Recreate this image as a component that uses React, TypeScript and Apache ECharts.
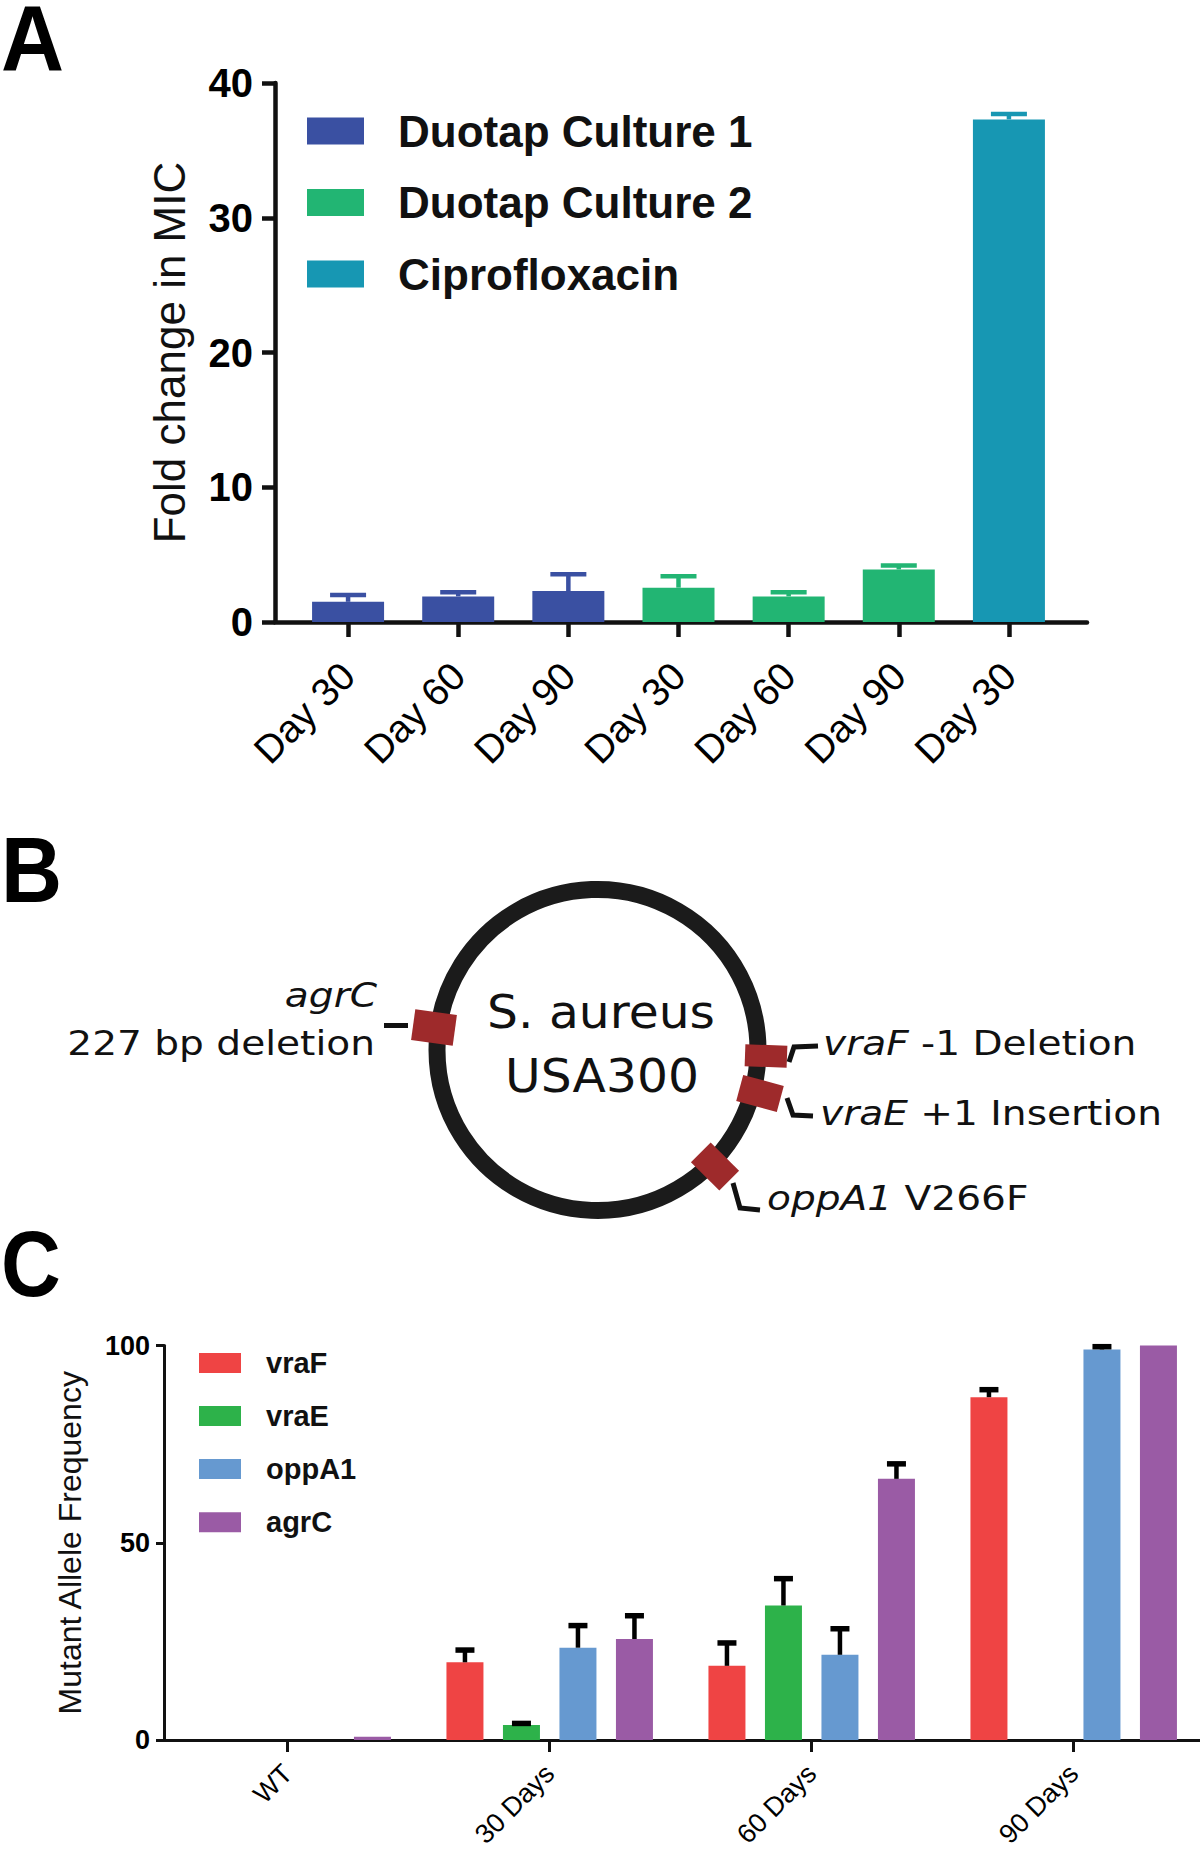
import React, { useEffect, useRef } from 'react';
import * as echarts from 'echarts';

// ---------- Panel A data ----------
const micCategories = ['Day 30', 'Day 60', 'Day 90', 'Day 30', 'Day 60', 'Day 90', 'Day 30'];
const micSeriesNames = ['Duotap Culture 1', 'Duotap Culture 2', 'Ciprofloxacin'];
const culture1Mean = [1.5, 1.9, 2.3];
const culture1Upper = [2.0, 2.2, 3.55];
const culture2Mean = [2.55, 1.9, 3.9];
const culture2Upper = [3.4, 2.2, 4.2];
const ciproMean = [37.3];
const ciproUpper = [37.7];
const micGroupStart = [0, 3, 6];
const micTickValues = [0, 10, 20, 30, 40];
const micColors = ['#3A50A2', '#22B573', '#1797B3'];

// ---------- Panel C data ----------
const afCategories = ['WT', '30 Days', '60 Days', '90 Days'];
const afSeriesNames = ['vraF', 'vraE', 'oppA1', 'agrC'];
const vraFMean = [0, 19.7, 18.8, 86.9];
const vraFUpper = [null, 22.8, 24.6, 88.8];
const vraEMean = [0, 3.8, 34.1, 0];
const vraEUpper = [null, 4.2, 40.9, null];
const oppA1Mean = [0, 23.4, 21.6, 99.0];
const oppA1Upper = [null, 29.0, 28.2, 99.7];
const agrCMean = [0.8, 25.6, 66.2, 100];
const agrCUpper = [null, 31.5, 70.0, null];
const afTickValues = [0, 50, 100];
const afColors = ['#EF4444', '#2DB24A', '#6699D0', '#9A5BA5'];

const SANS = "'Liberation Sans', Arial, Helvetica, sans-serif";
const DV = "'DejaVu Sans', Verdana, sans-serif";

export default function App() {
  const ref = useRef<HTMLDivElement>(null);

  useEffect(() => {
    if (!ref.current) return;
    const chart = echarts.init(ref.current, null, { renderer: 'svg' });

    const micMeans = [culture1Mean, culture2Mean, ciproMean];
    const micUppers = [culture1Upper, culture2Upper, ciproUpper];
    const micBars = micSeriesNames.map((name, gi) => {
      const data: any[] = micCategories.map(() => '-');
      micMeans[gi].forEach((v, j) => { data[micGroupStart[gi] + j] = v; });
      return {
        type: 'bar', name, xAxisIndex: 0, yAxisIndex: 0,
        barWidth: 72, barGap: '-100%', data,
        itemStyle: { color: micColors[gi] }, z: 3,
      };
    });
    const micErr: number[][] = [];
    micMeans.forEach((arr, gi) => arr.forEach((m, j) => {
      micErr.push([micGroupStart[gi] + j, m, micUppers[gi][j], gi]);
    }));

    const afMeans = [vraFMean, vraEMean, oppA1Mean, agrCMean];
    const afUppers = [vraFUpper, vraEUpper, oppA1Upper, agrCUpper];
    const afBarW = 37;
    const afGapPx = 19.5;
    const afBars = afSeriesNames.map((name, k) => ({
      type: 'bar', name, xAxisIndex: 2, yAxisIndex: 2,
      barWidth: afBarW, barGap: (afGapPx / afBarW * 100).toFixed(1) + '%',
      data: afMeans[k], itemStyle: { color: afColors[k] }, z: 3,
    }));
    const afErr: number[][] = [];
    afUppers.forEach((arr, k) => arr.forEach((u, c) => {
      if (u !== null) afErr.push([c, afMeans[k][c], u as number, k]);
    }));

    const ring = { cx: 597.5, cy: 1050, r: 160.5, w: 17 };
    const markers = [
      { cx: 434, cy: 1027.5, angle: 7.8, w: 42, h: 31 },
      { cx: 766, cy: 1056, angle: 2, w: 42, h: 22 },
      { cx: 760, cy: 1093.5, angle: 15, w: 42, h: 27 },
      { cx: 715, cy: 1166.5, angle: 44.8, w: 40, h: 28 },
    ];
    const red = '#9E2A2B';
    const leaders = [
      [[384, 1025.5], [408, 1025.5]],
      [[789, 1062], [794, 1047], [818, 1046]],
      [[787, 1098], [793, 1115], [813, 1116]],
      [[733, 1183], [740, 1208], [760, 1210]],
    ];
    const labelStyle = (text: string, align: string) => ({
      text, fontSize: 34, fontFamily: DV, fill: '#111', align, verticalAlign: 'middle',
      rich: { i: { fontStyle: 'italic', fontSize: 34, fontFamily: DV, fill: '#111' } },
    });
    const panelLetter = (t: string, yCenter: number, sx: number) => ({
      type: 'text', x: 1, y: yCenter - 36, scaleX: sx,
      style: {
        text: '{L|' + t + '}', verticalAlign: 'top', fill: '#000',
        rich: { L: { fontSize: 92, lineHeight: 72, height: 72, fontWeight: 'bold', fontFamily: SANS, fill: '#000' } },
      },
    });

    const graphic: any[] = [
      panelLetter('A', 38, 0.95),
      panelLetter('B', 870, 0.92),
      panelLetter('C', 1264, 0.9),
      { type: 'circle', shape: { cx: ring.cx, cy: ring.cy, r: ring.r }, style: { fill: 'none', stroke: '#1b1b1b', lineWidth: ring.w } },
      ...markers.map((m) => ({
        type: 'rect', x: m.cx, y: m.cy, rotation: -m.angle * Math.PI / 180,
        shape: { x: -m.w / 2, y: -m.h / 2, width: m.w, height: m.h },
        style: { fill: red },
      })),
      ...leaders.map((pts) => ({
        type: 'polyline', shape: { points: pts }, style: { stroke: '#111', lineWidth: 5, fill: 'none' },
      })),
      { type: 'text', x: 601, y: 1012, scaleX: 1.06, style: { text: 'S. aureus', fontSize: 46, fontFamily: DV, fill: '#111', align: 'center', verticalAlign: 'middle' } },
      { type: 'text', x: 602, y: 1076, scaleX: 1.06, style: { text: 'USA300', fontSize: 46, fontFamily: DV, fill: '#111', align: 'center', verticalAlign: 'middle' } },
      { type: 'text', x: 377, y: 995, scaleX: 1.15, style: labelStyle('{i|agrC}', 'right') },
      { type: 'text', x: 375, y: 1043, scaleX: 1.15, style: labelStyle('227 bp deletion', 'right') },
      { type: 'text', x: 823, y: 1043, scaleX: 1.15, style: labelStyle('{i|vraF} -1 Deletion', 'left') },
      { type: 'text', x: 820, y: 1113, scaleX: 1.15, style: labelStyle('{i|vraE} +1 Insertion', 'left') },
      { type: 'text', x: 767, y: 1198, scaleX: 1.15, style: labelStyle('{i|oppA1} V266F', 'left') },
    ];

    const gridBase = { outerBoundsMode: 'none', containLabel: false };

    const option: any = {
      animation: false,
      backgroundColor: '#ffffff',
      textStyle: { fontFamily: SANS },
      grid: [
        { ...gridBase, left: 293, top: 83, width: 771, height: 539 },
        { ...gridBase, left: 275, top: 83, width: 812, height: 539 },
        { ...gridBase, left: 156.7, top: 1345.5, width: 1048, height: 394.5 },
        { ...gridBase, left: 164, top: 1345.5, width: 1100, height: 394.5 },
      ],
      legend: [
        {
          data: micSeriesNames, orient: 'vertical', left: 307, top: 109, padding: 0,
          itemWidth: 57, itemHeight: 27, itemGap: 27.5, icon: 'rect', selectedMode: false,
          formatter: '{t|{name}}',
          textStyle: { rich: { t: { fontSize: 44, fontWeight: 'bold', fontFamily: SANS, color: '#111', padding: [0, 0, 0, 29], lineHeight: 27 } } },
        },
        {
          data: afSeriesNames, orient: 'vertical', left: 199, top: 1348.4, padding: 0,
          itemWidth: 42, itemHeight: 20, itemGap: 24.1, icon: 'rect', selectedMode: false,
          formatter: '{t|{name}}',
          textStyle: { rich: { t: { fontSize: 29, fontWeight: 'bold', fontFamily: SANS, color: '#111', padding: [0, 0, 0, 20], lineHeight: 20 } } },
        },
      ],
      xAxis: [
        {
          gridIndex: 0, type: 'category', data: micCategories,
          axisLine: { show: false },
          axisTick: { show: true, alignWithLabel: true, length: 15, lineStyle: { width: 4.5, color: '#111' } },
          axisLabel: { interval: 0, rotate: 45, fontSize: 39, color: '#000', margin: 47, fontFamily: SANS },
          splitLine: { show: false },
        },
        {
          gridIndex: 1, type: 'value', min: 0, max: 1,
          axisLine: { show: true, lineStyle: { width: 4.5, color: '#111' } },
          axisTick: { show: false }, axisLabel: { show: false }, splitLine: { show: false },
        },
        {
          gridIndex: 2, type: 'category', data: afCategories,
          axisLine: { show: false },
          axisTick: { show: true, alignWithLabel: true, length: 12, lineStyle: { width: 3, color: '#111' } },
          axisLabel: { interval: 0, rotate: 45, fontSize: 27, color: '#000', margin: 29, fontFamily: SANS },
          splitLine: { show: false },
        },
        {
          gridIndex: 3, type: 'value', min: 0, max: 1,
          axisLine: { show: true, lineStyle: { width: 3, color: '#111' } },
          axisTick: { show: false }, axisLabel: { show: false }, splitLine: { show: false },
        },
      ],
      yAxis: [
        { gridIndex: 0, type: 'value', min: 0, max: 40, show: false },
        {
          gridIndex: 1, type: 'value', min: micTickValues[0], max: micTickValues[micTickValues.length - 1], interval: 10,
          axisLine: { show: true, lineStyle: { width: 4.5, color: '#111' } },
          axisTick: { show: true, length: 13, lineStyle: { width: 4.5, color: '#111' } },
          axisLabel: { fontSize: 40, fontWeight: 'bold', color: '#000', margin: 22, fontFamily: SANS },
          splitLine: { show: false },
          name: 'Fold change in MIC', nameLocation: 'middle', nameGap: 84,
          nameTextStyle: { fontSize: 44, color: '#111', fontFamily: SANS },
        },
        { gridIndex: 2, type: 'value', min: 0, max: 100, show: false },
        {
          gridIndex: 3, type: 'value', min: afTickValues[0], max: afTickValues[afTickValues.length - 1], interval: 50,
          axisLine: { show: true, lineStyle: { width: 3, color: '#111' } },
          axisTick: { show: true, length: 8, lineStyle: { width: 3, color: '#111' } },
          axisLabel: { fontSize: 27, fontWeight: 'bold', color: '#000', margin: 14, fontFamily: SANS },
          splitLine: { show: false },
          name: 'Mutant Allele Frequency', nameLocation: 'middle', nameGap: 78,
          nameTextStyle: { fontSize: 32, color: '#111', fontFamily: SANS },
        },
      ],
      series: [
        ...micBars,
        {
          type: 'custom', name: 'micErr', xAxisIndex: 0, yAxisIndex: 0, z: 2,
          data: micErr, encode: { x: 0, y: [1, 2] },
          renderItem: (params: any, api: any) => {
            const c = api.value(0), m = api.value(1), u = api.value(2), gi = api.value(3);
            const p0 = api.coord([c, m]);
            const p1 = api.coord([c, u]);
            const color = micColors[gi];
            return {
              type: 'group', children: [
                { type: 'line', shape: { x1: p0[0], y1: p0[1], x2: p0[0], y2: p1[1] }, style: { stroke: color, lineWidth: 4.5 } },
                { type: 'line', shape: { x1: p0[0] - 18, y1: p1[1], x2: p0[0] + 18, y2: p1[1] }, style: { stroke: color, lineWidth: 4.5 } },
              ],
            };
          },
        },
        ...afBars,
        {
          type: 'custom', name: 'afErr', xAxisIndex: 2, yAxisIndex: 2, z: 4,
          data: afErr, encode: { x: 0, y: [1, 2] },
          renderItem: (params: any, api: any) => {
            const c = api.value(0), m = api.value(1), u = api.value(2), k = api.value(3);
            const p0 = api.coord([c, m]);
            const p1 = api.coord([c, u]);
            const x = p0[0] + (k - 1.5) * (afBarW + afGapPx);
            return {
              type: 'group', children: [
                { type: 'line', shape: { x1: x, y1: p0[1], x2: x, y2: p1[1] }, style: { stroke: '#000', lineWidth: 4.5 } },
                { type: 'line', shape: { x1: x - 9.5, y1: p1[1], x2: x + 9.5, y2: p1[1] }, style: { stroke: '#000', lineWidth: 5.5 } },
              ],
            };
          },
        },
      ],
      graphic,
    };

    chart.setOption(option);
    return () => { chart.dispose(); };
  }, []);

  return (
    <div
      ref={ref}
      style={{ position: 'absolute', left: 0, top: 0, width: 1200, height: 1853, background: '#fff' }}
    />
  );
}
